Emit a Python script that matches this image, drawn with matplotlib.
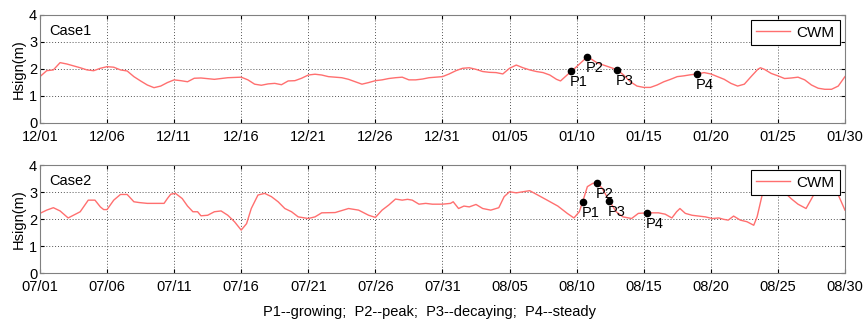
import numpy as np
import matplotlib
matplotlib.use("Agg")
import matplotlib.pyplot as plt

plt.rcParams['font.family'] = ['Liberation Sans', 'DejaVu Sans']
plt.rcParams['font.size'] = 10.5

# Case1: days since 12/01
c1_day = [0, 0.5, 1, 1.5, 2, 2.5, 3, 3.5, 4, 4.5, 5, 5.5, 6, 6.5, 7, 7.5, 8, 8.5, 9, 9.5,
          10, 10.5, 11, 11.5, 12, 13, 14, 15, 15.5, 16, 16.5, 17, 17.5, 18, 18.5, 19, 19.5,
          20, 20.5, 21, 21.5, 22, 22.5, 23, 23.5, 24, 24.5, 25, 25.5, 26, 26.5, 27, 27.5,
          28, 28.5, 29, 30, 30.5, 31, 31.5, 32, 32.5, 33, 33.5, 34, 34.5, 35, 35.5, 36,
          36.5, 37, 37.5, 38, 38.5, 38.8, 39.6, 40, 40.8, 41, 41.5, 42, 43, 43.5, 44, 44.5,
          45, 45.5, 46, 46.5, 47, 47.5, 48, 48.5, 49, 49.5, 50, 50.5, 51, 51.5, 52, 52.5,
          53, 53.5, 53.7, 54, 54.5, 55, 55.5, 56, 56.5, 57, 57.5, 58, 58.5, 59, 59.5, 60]
c1_hs = [1.71, 1.93, 1.96, 2.23, 2.18, 2.11, 2.04, 1.96, 1.93, 2.02, 2.08, 2.06, 1.96, 1.92,
         1.71, 1.55, 1.40, 1.30, 1.36, 1.49, 1.59, 1.56, 1.52, 1.65, 1.66, 1.61, 1.67, 1.69,
         1.59, 1.43, 1.39, 1.44, 1.46, 1.41, 1.55, 1.56, 1.65, 1.77, 1.80, 1.77, 1.71, 1.69,
         1.67, 1.61, 1.52, 1.43, 1.49, 1.56, 1.59, 1.64, 1.67, 1.69, 1.59, 1.59, 1.62, 1.67,
         1.71, 1.81, 1.93, 2.02, 2.04, 1.98, 1.90, 1.87, 1.86, 1.81, 2.02, 2.14, 2.04, 1.96,
         1.90, 1.86, 1.77, 1.61, 1.55, 1.91, 2.08, 2.45, 2.39, 2.23, 2.14, 1.97, 1.77, 1.52,
         1.36, 1.31, 1.31, 1.40, 1.52, 1.61, 1.71, 1.74, 1.78, 1.81, 1.86, 1.81, 1.71, 1.61,
         1.46, 1.36, 1.43, 1.71, 1.98, 2.04, 1.98, 1.83, 1.74, 1.64, 1.66, 1.69, 1.59, 1.40,
         1.28, 1.24, 1.24, 1.36, 1.71]
c1_ticks = ["12/01", "12/06", "12/11", "12/16", "12/21", "12/26", "12/31",
            "01/05", "01/10", "01/15", "01/20", "01/25", "01/30"]
c1_pt_day = [39.6, 40.8, 43.0, 49.0]
c1_pt_hs = [1.91, 2.45, 1.97, 1.81]

# Case2: days since 07/01
c2_day = [0, 0.5, 1, 1.5, 2.1, 3, 3.6, 4.1, 4.5, 4.75, 5, 5.5, 6, 6.5, 7, 7.4, 8, 8.75,
          9.25, 9.5, 9.75, 10.1, 10.6, 11, 11.4, 11.75, 12, 12.5, 13, 13.5, 14, 14.5, 15,
          15.4, 15.75, 16.25, 16.75, 17.25, 17.75, 18.25, 18.75, 19.25, 20, 20.5, 21, 22,
          23, 23.75, 24.5, 25, 25.5, 26, 26.5, 27, 27.4, 27.75, 28.25, 28.75, 29.25,
          30, 30.6, 30.8, 31.2, 31.6, 32, 32.5, 33, 33.6, 34.2, 34.6, 35, 35.5, 36, 36.5,
          37.1, 37.8, 38.6, 39.3, 39.8, 40.2, 40.45, 40.8, 41.2, 41.5, 41.9, 42.45, 42.95,
          43.45, 44.1, 44.6, 45.25, 46.1, 46.6, 47.1, 47.45, 47.7, 48.1, 48.6, 49.1, 49.6,
          50.1, 50.6, 50.95, 51.3, 51.7, 52.2, 52.7, 53.2, 53.45, 53.8, 54.2, 54.6, 55.0,
          55.45, 56.0, 56.5, 57.1, 57.8, 58.5, 59.0, 59.45, 60]
c2_hs = [2.21, 2.33, 2.42, 2.30, 2.04, 2.27, 2.70, 2.70, 2.45, 2.35, 2.35, 2.70, 2.91, 2.91,
         2.64, 2.61, 2.58, 2.58, 2.58, 2.76, 2.92, 2.95, 2.76, 2.48, 2.27, 2.27, 2.12, 2.14,
         2.27, 2.30, 2.14, 1.90, 1.59, 1.83, 2.39, 2.89, 2.95, 2.83, 2.64, 2.39, 2.27, 2.08,
         2.02, 2.08, 2.23, 2.24, 2.39, 2.33, 2.14, 2.06, 2.33, 2.52, 2.74, 2.70, 2.73, 2.70,
         2.55, 2.58, 2.55, 2.55, 2.58, 2.64, 2.39, 2.48, 2.45, 2.54, 2.39, 2.33, 2.42, 2.83,
         3.01, 2.97, 3.01, 3.05, 2.89, 2.70, 2.48, 2.21, 2.04, 2.27, 2.64, 3.20, 3.32, 3.35,
         3.14, 2.66, 2.27, 2.08, 2.02, 2.21, 2.23, 2.23, 2.18, 2.04, 2.27, 2.39, 2.21, 2.14,
         2.11, 2.08, 2.02, 2.04, 1.99, 1.96, 2.11, 1.96, 1.90, 1.77, 2.08, 2.83, 3.51, 3.75,
         3.40, 3.01, 2.75, 2.55, 2.39, 3.01, 3.20, 3.10, 2.95, 2.33]
c2_ticks = ["07/01", "07/06", "07/11", "07/16", "07/21", "07/26", "07/31",
            "08/05", "08/10", "08/15", "08/20", "08/25", "08/30"]
c2_pt_day = [40.45, 41.5, 42.45, 45.25]
c2_pt_hs = [2.64, 3.35, 2.66, 2.23]

pt_names = ["P1", "P2", "P3", "P4"]


def draw_case(ax, day, hs, ticks, pday, phs, name):
    ax.plot(day, hs, color="#ff6f6f", lw=1.0, label="CWM")
    ax.plot(pday, phs, "o", color="black", ms=4.5, zorder=5)
    for n, x, y in zip(pt_names, pday, phs):
        ax.annotate(n, (x, y), xytext=(-1, -3), textcoords="offset points",
                    ha="left", va="top", fontsize=10.5)
    ax.set_xlim(0, 60)
    ax.set_ylim(0, 4)
    ax.set_xticks(np.arange(0, 61, 5))
    ax.set_xticklabels(ticks)
    ax.set_yticks([0, 1, 2, 3, 4])
    ax.set_ylabel("Hsign(m)", labelpad=2)
    ax.grid(True, color="#555555", linestyle=(0, (1, 2)), lw=0.7)
    ax.tick_params(direction="in", length=3, top=True, right=True, pad=2, colors="black")
    ax.tick_params(axis="x", pad=5)
    for s in ax.spines.values():
        s.set_color("#808080")
    ax.text(0.012, 0.92, name, transform=ax.transAxes, ha="left", va="top")
    leg = ax.legend(loc="upper right", fancybox=False, framealpha=1, edgecolor="black",
                    borderpad=0.35, handlelength=2.2, handletextpad=0.4,
                    borderaxespad=0.35, fontsize=11)
    leg.get_frame().set_linewidth(0.8)


fig = plt.figure(figsize=(8.63, 3.22), dpi=100)
ax1 = fig.add_axes([0.0463, 0.619, 0.9328, 0.3345])
ax2 = fig.add_axes([0.0463, 0.152, 0.9328, 0.3355])
draw_case(ax1, c1_day, c1_hs, c1_ticks, c1_pt_day, c1_pt_hs, "Case1")
draw_case(ax2, c2_day, c2_hs, c2_ticks, c2_pt_day, c2_pt_hs, "Case2")

fig.text(0.498, 0.03, "P1--growing;  P2--peak;  P3--decaying;  P4--steady",
         ha="center", va="center")

fig.savefig("out.png", dpi=100)
